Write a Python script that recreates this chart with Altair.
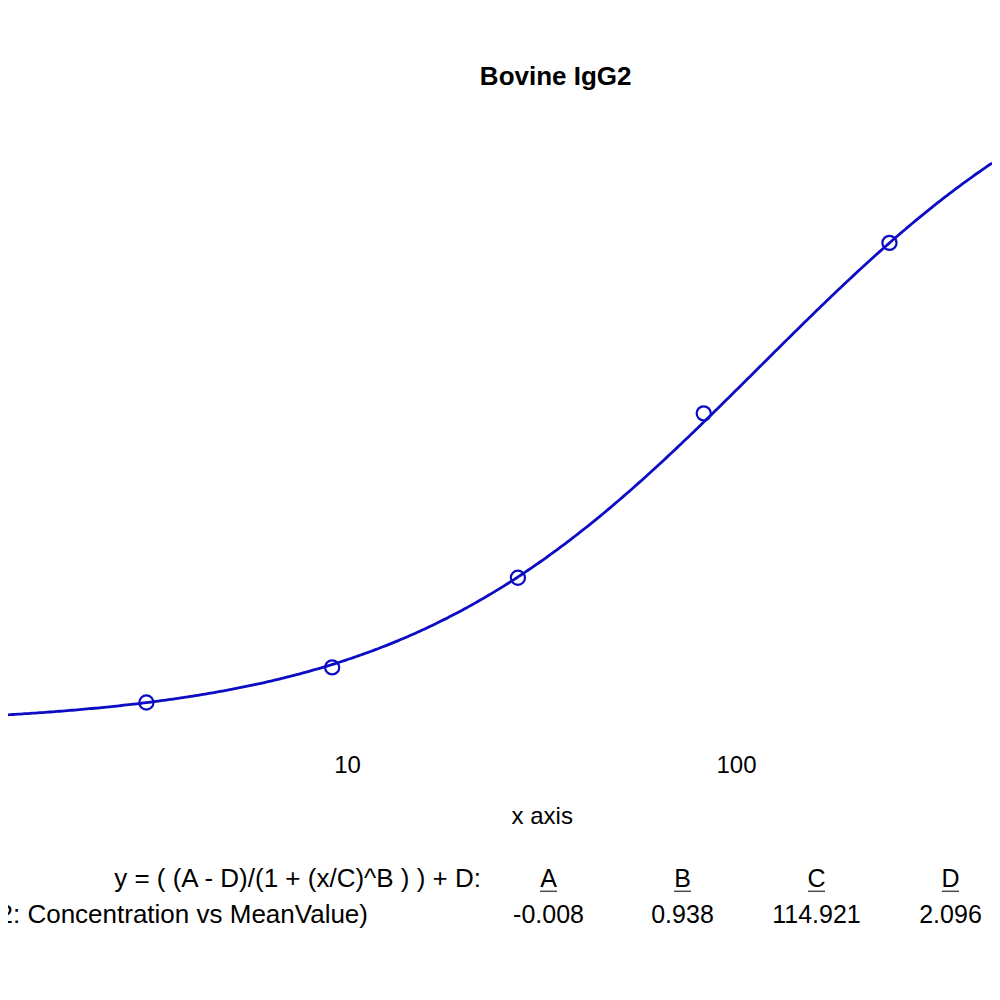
import altair as alt
import numpy as np
import pandas as pd

# standards (concentration) and measured mean values
conc = [3.05, 9.16, 27.5, 82.6, 248.0]
mean_value = [0.060, 0.163, 0.426, 0.908, 1.408]

# 4-parameter logistic fit shown under the plot
param_names = ['A', 'B', 'C', 'D']
param_values = [-0.008, 0.938, 114.921, 2.096]

x_ticks = [10, 100]
x_domain = [1.3446, 455.0]
y_domain = [-0.05, 1.83]

equation = 'y = ( (A - D)/(1 + (x/C)^B ) ) + D:'
series_label = '(Bovine IgG2: Concentration vs MeanValue)'

FONT = 'Liberation Sans'
BLUE = '#0c0cc4'


def four_pl(x, a, b, c, d):
    return (a - d) / (1 + (x / c) ** b) + d


xs = np.logspace(np.log10(x_domain[0]), np.log10(x_domain[1]), 400)
curve_df = pd.DataFrame({'conc': xs, 'value': four_pl(xs, *param_values)})
points_df = pd.DataFrame({'conc': conc, 'value': mean_value})
table_df = pd.DataFrame({
    'param': param_names,
    'val': ['%.3f' % v for v in param_values],
})

x_scale = alt.Scale(type='log', domain=x_domain, nice=False)
x_axis = alt.Axis(
    values=x_ticks, format='d', grid=False, domain=False, ticks=False,
    tickSize=0, labelFont=FONT, labelFontSize=24, labelColor='black',
    labelPadding=13.3, labelFlush=False, titleFont=FONT, titleFontSize=24,
    titleFontWeight='normal', titleColor='black', titleX=533.7,
    titleY=83.3, titleBaseline='alphabetic', titleAlign='center')
y_enc = alt.Y('value:Q', scale=alt.Scale(domain=y_domain, nice=False, zero=False),
              axis=None)

curve = alt.Chart(curve_df).mark_line(color=BLUE, strokeWidth=2.8).encode(
    x=alt.X('conc:Q', scale=x_scale, axis=x_axis, title='x axis'),
    y=y_enc)
points = alt.Chart(points_df).mark_point(
    shape='circle', filled=False, color=BLUE, size=200, strokeWidth=2.2,
    opacity=1
).encode(x=alt.X('conc:Q', scale=x_scale), y=y_enc)

fit = alt.layer(curve, points)

col_x = alt.X('param:N', axis=None, scale=alt.Scale(
    type='point', domain=param_names, range=[540.5, 942.5], padding=0))

text_style = dict(font=FONT, fontSize=25, baseline='alphabetic', color='black')
wide_style = dict(text_style, fontSize=26)

headers = alt.Chart(table_df).mark_text(**text_style).encode(
    x=col_x, y=alt.value(787.7), text='param:N')
underline = alt.Chart(table_df).mark_tick(
    orient='horizontal', thickness=1.5, color='black'
).encode(x=col_x, y=alt.value(792.3), size=alt.value(17))
values = alt.Chart(table_df).mark_text(**text_style).encode(
    x=col_x, y=alt.value(824.3), text='val:N')

eq = alt.Chart(pd.DataFrame({'t': [equation]})).mark_text(
    align='right', **wide_style
).encode(x=alt.value(473), y=alt.value(787.7), text='t:N')
label = alt.Chart(pd.DataFrame({'t': [series_label]})).mark_text(
    align='right', **wide_style
).encode(x=alt.value(360), y=alt.value(824.3), text='t:N')

table = alt.layer(headers, underline, values, eq, label)

chart = alt.layer(
    fit, table
).resolve_scale(
    x='independent'
).properties(
    width=984,
    height=641,
    background='white',
    padding={'left': 0, 'right': 0, 'top': 91, 'bottom': 250},
    autosize=alt.AutoSizeParams(type='none'),
    title=alt.TitleParams(
        'Bovine IgG2', font=FONT, fontSize=26, fontWeight='bold',
        color='black', anchor='middle', frame='group', dx=55.7, dy=25.5,
        offset=13.3, baseline='alphabetic'),
).configure_view(
    strokeWidth=0
)

chart.save('out.html', embed_options={'renderer': 'svg', 'actions': False})
